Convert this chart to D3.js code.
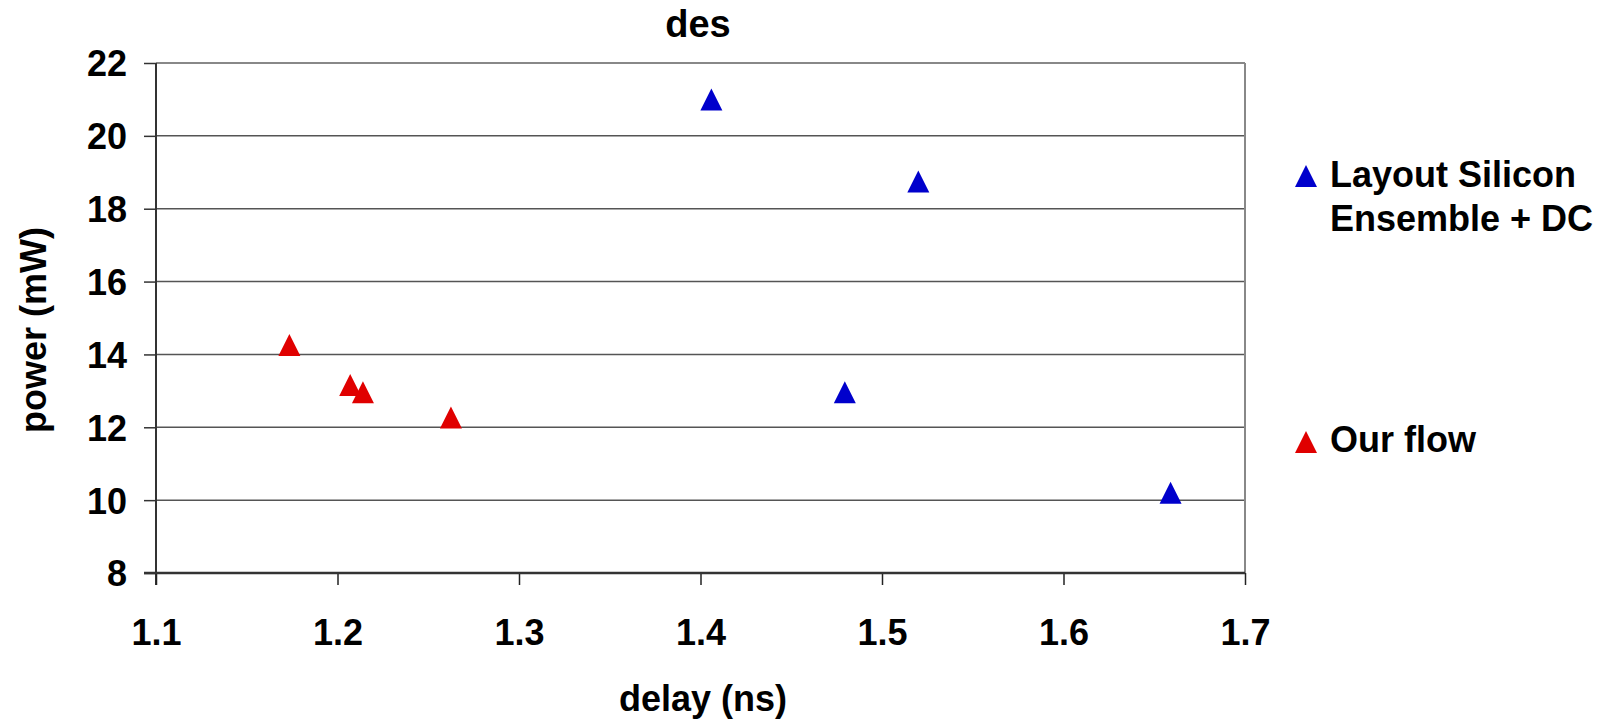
<!DOCTYPE html>
<html>
<head>
<meta charset="utf-8">
<script src="https://cdn.jsdelivr.net/npm/d3@7"></script>
<style>
  html, body { margin: 0; padding: 0; background: #ffffff; }
  svg { display: block; }
  text { font-family: Arial, "Liberation Sans", sans-serif; font-weight: bold; fill: #000; }
</style>
</head>
<body>
<svg id="chart" width="1616" height="720"></svg>
<script>
// Series: delay (ns) and power (mW)
const layoutDelay = [1.406, 1.520, 1.4795, 1.659];
const layoutPower = [21.0, 18.75, 12.96, 10.2];
const ourDelay = [1.1735, 1.207, 1.214, 1.2625];
const ourPower = [14.26, 13.16, 12.96, 12.27];

const seriesNames = ["Layout Silicon|Ensemble + DC", "Our flow"];
const seriesColors = ["#0000cc", "#e00000"];

const xTicks = [1.1, 1.2, 1.3, 1.4, 1.5, 1.6, 1.7];
const yTicks = [8, 10, 12, 14, 16, 18, 20, 22];

const chartTitle = "des";
const xTitle = "delay (ns)";
const yTitle = "power (mW)";

const svg = d3.select("#chart");

const plot = { left: 156, right: 1245, top: 63, bottom: 573 };
const x = d3.scaleLinear().domain([1.1, 1.7]).range([plot.left, plot.right]);
const y = d3.scaleLinear().domain([8, 22]).range([plot.bottom, plot.top]);

const tickLen = 12;
const markerHalf = 11;

// Horizontal gridlines
svg.append("g")
  .selectAll("line")
  .data(yTicks.filter(v => v > 8))
  .join("line")
  .attr("x1", plot.left).attr("x2", plot.right)
  .attr("y1", d => y(d)).attr("y2", d => y(d))
  .attr("stroke", d => d === 22 ? "#888888" : "#555555")
  .attr("stroke-width", d => d === 22 ? 2 : 1.5);

// Right border of the plot area
svg.append("line")
  .attr("x1", plot.right).attr("x2", plot.right)
  .attr("y1", plot.top).attr("y2", plot.bottom)
  .attr("stroke", "#888888").attr("stroke-width", 2);

// Y axis
const yAxis = d3.axisLeft(y).tickValues(yTicks).tickSize(tickLen).tickPadding(17)
  .tickFormat(d3.format("d"));
const gy = svg.append("g").attr("transform", `translate(${plot.left},0)`).call(yAxis);
gy.select(".domain").remove();
gy.selectAll(".tick line").attr("stroke", "#333").attr("stroke-width", 1.5);
gy.selectAll(".tick text").style("font-size", "36px").attr("fill", "#000")
  .attr("dy", "0.36em");
svg.append("line")
  .attr("x1", plot.left).attr("x2", plot.left)
  .attr("y1", plot.top).attr("y2", plot.bottom + tickLen)
  .attr("stroke", "#333").attr("stroke-width", 2);

// X axis
const xAxis = d3.axisBottom(x).tickValues(xTicks).tickSize(tickLen).tickPadding(34)
  .tickFormat(d3.format(".1f"));
const gx = svg.append("g").attr("transform", `translate(0,${plot.bottom})`).call(xAxis);
gx.select(".domain").remove();
gx.selectAll(".tick line").attr("stroke", "#222").attr("stroke-width", 1.5);
gx.selectAll(".tick text").style("font-size", "36px").attr("fill", "#000");
svg.append("line")
  .attr("x1", plot.left - tickLen).attr("x2", plot.right)
  .attr("y1", plot.bottom).attr("y2", plot.bottom)
  .attr("stroke", "#333").attr("stroke-width", 2.5);

// Triangle marker path centred on (cx, cy)
function triangle(cx, cy, h) {
  return `M${cx},${cy - h}L${cx + h},${cy + h}L${cx - h},${cy + h}Z`;
}

const series = [
  { delay: layoutDelay, power: layoutPower, color: seriesColors[0] },
  { delay: ourDelay, power: ourPower, color: seriesColors[1] }
];

series.forEach(s => {
  const pts = s.delay.map((d, i) => ({ d, p: s.power[i] }));
  svg.append("g")
    .selectAll("path")
    .data(pts)
    .join("path")
    .attr("d", v => triangle(x(v.d), y(v.p), markerHalf))
    .attr("fill", s.color);
});

// Title
svg.append("text")
  .attr("x", 698).attr("y", 37)
  .attr("text-anchor", "middle")
  .style("font-size", "38px")
  .text(chartTitle);

// Axis titles
svg.append("text")
  .attr("x", 703).attr("y", 711)
  .attr("text-anchor", "middle")
  .style("font-size", "36px")
  .text(xTitle);

svg.append("text")
  .attr("transform", "translate(46,330) rotate(-90)")
  .attr("text-anchor", "middle")
  .style("font-size", "36px")
  .text(yTitle);

// Legend
const legendItems = [
  { lines: seriesNames[0].split("|"), color: seriesColors[0], markerY: 176, baseY: 187 },
  { lines: seriesNames[1].split("|"), color: seriesColors[1], markerY: 442, baseY: 452 }
];
const legend = svg.append("g");
legendItems.forEach(item => {
  legend.append("path")
    .attr("d", triangle(1306, item.markerY, markerHalf))
    .attr("fill", item.color);
  const t = legend.append("text")
    .attr("x", 1330).attr("y", item.baseY)
    .style("font-size", "36px");
  item.lines.forEach((ln, i) => {
    t.append("tspan").attr("x", 1330).attr("dy", i === 0 ? 0 : 44).text(ln);
  });
});
</script>
</body>
</html>
